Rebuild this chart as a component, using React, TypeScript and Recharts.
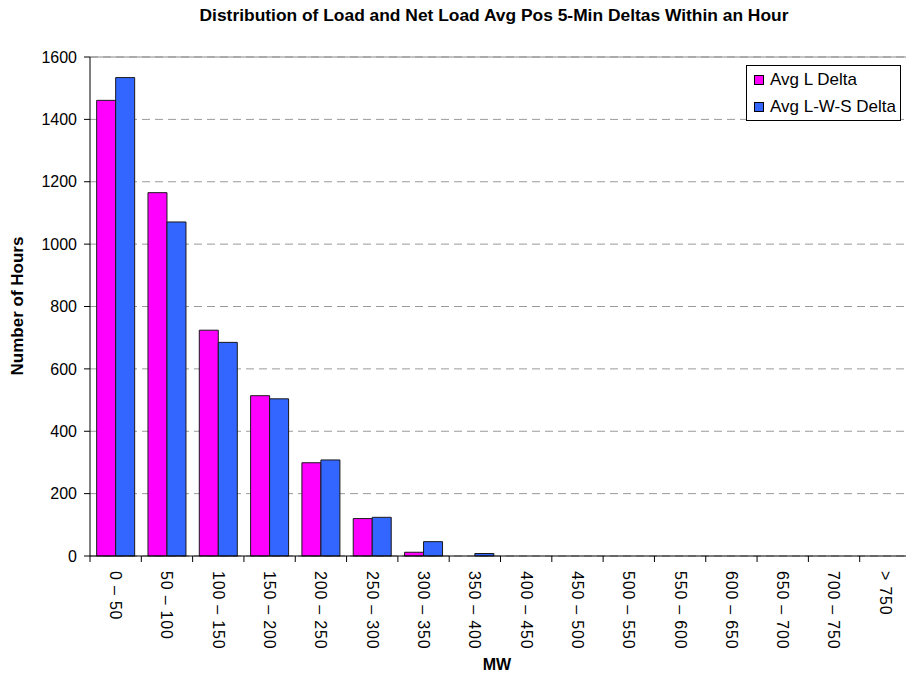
import React from 'react';
import { BarChart, Bar, XAxis, YAxis, CartesianGrid, ReferenceLine } from 'recharts';

// bins (MW)
const categories = [
    '0 – 50', '50 – 100', '100 – 150', '150 – 200', '200 – 250', '250 – 300',
    '300 – 350', '350 – 400', '400 – 450', '450 – 500', '500 – 550', '550 – 600',
    '600 – 650', '650 – 700', '700 – 750', '> 750',
];
const avgLDelta = [1461, 1165, 724, 514, 299, 120, 12, 0, 0, 0, 0, 0, 0, 0, 0, 0];
const avgLWSDelta = [1534, 1071, 685, 504, 308, 124, 46, 8, 0, 0, 0, 0, 0, 0, 0, 0];
const yTicks = [0, 200, 400, 600, 800, 1000, 1200, 1400, 1600];
const seriesNames = ['Avg L Delta', 'Avg L-W-S Delta'];

const FONT = 'Arial, "Liberation Sans", sans-serif';
const W = 912;
const H = 677;
const MARGIN = { top: 57, right: 1, left: 30, bottom: 36 };
const Y_AXIS_W = 60;
const X_AXIS_H = 85;
const PLOT_W = W - MARGIN.left - Y_AXIS_W - MARGIN.right;
const AXIS_Y = H - MARGIN.bottom - X_AXIS_H;

const PINK = '#FF00FF';
const BLUE = '#3366FF';

const data = categories.map((c, i) => ({
    bin: c,
    l: avgLDelta[i],
    lws: avgLWSDelta[i],
}));

// rotated labels + tick marks between categories
const BinTick = (props: any) => {
    const { x, y, payload, index } = props;
    const band = PLOT_W / categories.length;
    return (
        <g>
            <line x1={x - band / 2} x2={x - band / 2} y1={AXIS_Y} y2={AXIS_Y + 6} stroke="#000" />
            {index === categories.length - 1 && (
                <line x1={x + band / 2} x2={x + band / 2} y1={AXIS_Y} y2={AXIS_Y + 6} stroke="#000" />
            )}
            <text
                x={x}
                y={y}
                transform={`rotate(90 ${x} ${y})`}
                dy="0.35em"
                textAnchor="start"
                fontSize={16}
                letterSpacing={0.8}
                fontFamily={FONT}
                fill="#000"
            >
                {payload.value}
            </text>
        </g>
    );
};

const LegendBox = () => (
    <div
        style={{
            position: 'absolute',
            left: 746,
            top: 65,
            border: '1px solid #000',
            background: '#fff',
            width: 153,
            height: 54,
            fontFamily: FONT,
            fontSize: 17,
            color: '#000',
        }}
    >
        {[PINK, BLUE].map((color, i) => (
            <div key={i} style={{ display: 'flex', alignItems: 'center', height: 27, paddingLeft: 7 }}>
                <span
                    style={{
                        display: 'inline-block',
                        width: 8,
                        height: 8,
                        background: color,
                        border: '1px solid #000',
                        marginRight: 6,
                    }}
                />
                <span style={{ whiteSpace: 'nowrap' }}>{seriesNames[i]}</span>
            </div>
        ))}
    </div>
);

const App: React.FC = () => {
    return (
        <div style={{ position: 'fixed', left: 0, top: 0, width: 906, height: 677, overflow: 'hidden', background: '#fff' }}>
            <BarChart
                width={W}
                height={H}
                data={data}
                margin={MARGIN}
                barCategoryGap="13%"
                barGap={0}
                style={{ position: 'absolute', left: 0, top: 0 }}
            >
                <CartesianGrid vertical={false} stroke="#9a9a9a" strokeDasharray="8 5" />
                <ReferenceLine y={1600} stroke="#888" />
                <XAxis
                    dataKey="bin"
                    interval={0}
                    height={X_AXIS_H}
                    tickLine={false}
                    tickSize={6}
                    tickMargin={9}
                    axisLine={{ stroke: '#000' }}
                    tick={<BinTick />}
                />
                <YAxis
                    width={Y_AXIS_W}
                    domain={[0, 1600]}
                    ticks={yTicks}
                    interval={0}
                    tickSize={6}
                    tickMargin={7}
                    axisLine={{ stroke: '#000' }}
                    tickLine={{ stroke: '#000' }}
                    tick={{ fontSize: 16, fontFamily: FONT, fill: '#000' }}
                />
                <Bar dataKey="l" name={seriesNames[0]} fill={PINK} stroke="#1a1a1a" strokeWidth={1} isAnimationActive={false} />
                <Bar dataKey="lws" name={seriesNames[1]} fill={BLUE} stroke="#1a1a1a" strokeWidth={1} isAnimationActive={false} />
            </BarChart>
            <div
                style={{
                    position: 'absolute',
                    top: 15,
                    left: 494,
                    transform: 'translate(-50%, -50%)',
                    whiteSpace: 'nowrap',
                    fontFamily: FONT,
                    fontWeight: 'bold',
                    fontSize: 17.4,
                    color: '#000',
                }}
            >
                Distribution of Load and Net Load Avg Pos 5-Min Deltas Within an Hour
            </div>
            <div
                style={{
                    position: 'absolute',
                    left: 18,
                    top: 306,
                    transform: 'translate(-50%, -50%) rotate(-90deg)',
                    whiteSpace: 'nowrap',
                    fontFamily: FONT,
                    fontWeight: 'bold',
                    fontSize: 17,
                    color: '#000',
                }}
            >
                Number of Hours
            </div>
            <div
                style={{
                    position: 'absolute',
                    left: 497,
                    top: 665,
                    transform: 'translate(-50%, -50%)',
                    fontFamily: FONT,
                    fontWeight: 'bold',
                    fontSize: 16,
                    color: '#000',
                }}
            >
                MW
            </div>
            <LegendBox />
        </div>
    );
};

export default App;
